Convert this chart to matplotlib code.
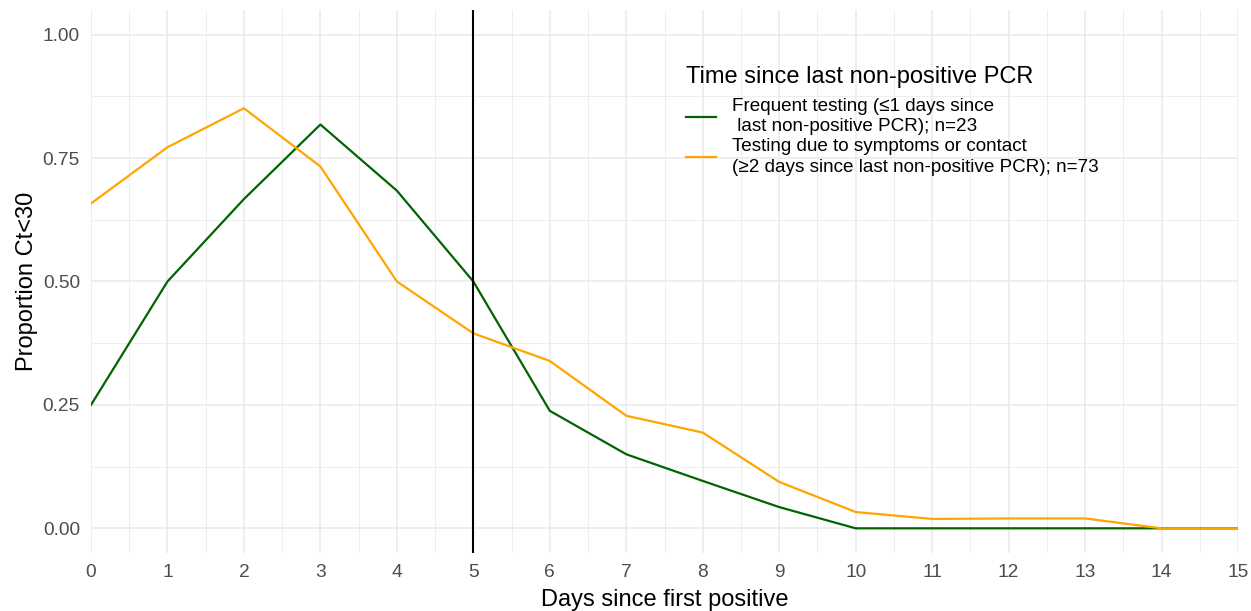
import matplotlib
matplotlib.use("Agg")
import matplotlib.pyplot as plt
from matplotlib.ticker import MultipleLocator
import numpy as np

plt.rcParams['font.family'] = ['Liberation Sans', 'DejaVu Sans']

# Days since first positive
days = np.arange(0, 16)

# Proportion Ct<30, frequent testing group (n=23)
frequent = [0.25, 0.50, 0.667, 0.818, 0.684, 0.50, 0.238, 0.150, 0.096, 0.043,
            0.0, 0.0, 0.0, 0.0, 0.0, 0.0]
# Proportion Ct<30, symptom/contact testing group (n=73)
symptom = [0.658, 0.772, 0.851, 0.733, 0.50, 0.395, 0.339, 0.228, 0.194, 0.094,
           0.033, 0.019, 0.020, 0.020, 0.0, 0.0]

labels = ["Frequent testing (\u22641 days since\n last non-positive PCR); n=23",
          "Testing due to symptoms or contact\n(\u22652 days since last non-positive PCR); n=73"]
colors = ["#006400", "#FFA500"]
cutoff_day = 5

fig = plt.figure(figsize=(12.51, 6.11), dpi=100)
ax = fig.add_axes([91 / 1251, 1 - 553 / 611, 1147 / 1251, 543 / 611])

ax.plot(days, frequent, color=colors[0], lw=1.6, label=labels[0], zorder=3)
ax.plot(days, symptom, color=colors[1], lw=1.6, label=labels[1], zorder=3)
ax.axvline(cutoff_day, color="black", lw=1.5, zorder=4)

ax.set_xlim(0, 15)
ax.set_ylim(-0.05, 1.05)
ax.xaxis.set_major_locator(MultipleLocator(1))
ax.xaxis.set_minor_locator(MultipleLocator(0.5))
ax.set_yticks([0, 0.25, 0.5, 0.75, 1.0])
ax.set_yticklabels(["0.00", "0.25", "0.50", "0.75", "1.00"])
ax.yaxis.set_minor_locator(MultipleLocator(0.125))

ax.grid(which="major", color="#EBEBEB", lw=1.2)
ax.grid(which="minor", color="#EBEBEB", lw=0.6)
ax.set_axisbelow(True)
for s in ax.spines.values():
    s.set_visible(False)
ax.tick_params(which="both", length=0, labelsize=13.8, labelcolor="#4D4D4D")
ax.tick_params(axis="x", pad=8)
ax.tick_params(axis="y", pad=8)

ax.set_xlabel("Days since first positive", fontsize=17, labelpad=6)
ax.set_ylabel("Proportion Ct<30", fontsize=17, labelpad=3)

leg = ax.legend(loc="upper left", bbox_to_anchor=(677 / 1251, 1 - 57 / 611),
                bbox_transform=fig.transFigure, frameon=False,
                title="Time since last non-positive PCR", title_fontsize=17,
                fontsize=13.6, labelspacing=0.15, handlelength=1.55, handletextpad=0.85,
                borderpad=0.0)
leg._legend_box.align = "left"
leg._legend_box.sep = 7
for t in leg.get_texts():
    t.set_linespacing(1.25)

fig.savefig("out.png", dpi=100)
